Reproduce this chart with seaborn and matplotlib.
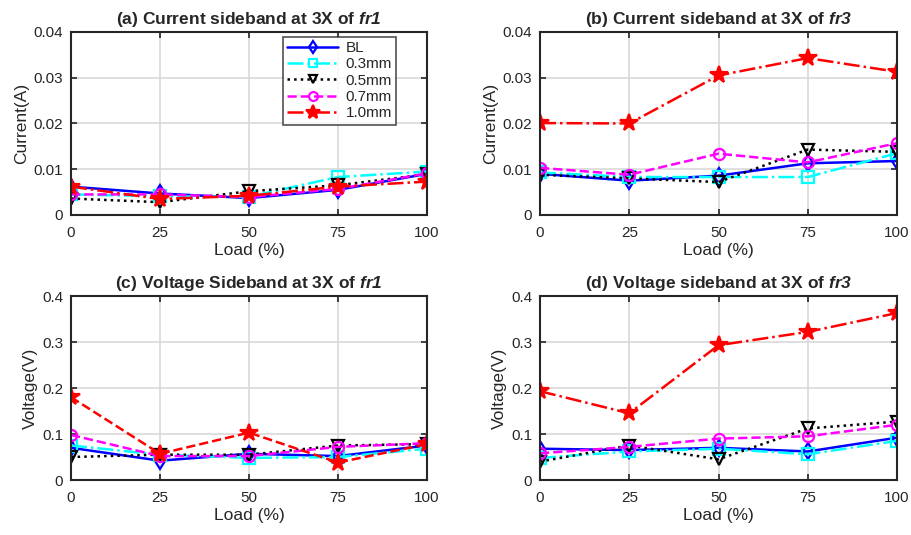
import matplotlib
matplotlib.use('Agg')
import matplotlib.pyplot as plt
import seaborn as sns

load = [0, 25, 50, 75, 100]
series = ['BL', '0.3mm', '0.5mm', '0.7mm', '1.0mm']

# (a) current sideband at 3X of fr1
cur_fr1 = {
    'BL':    [0.0062, 0.0047, 0.0037, 0.0055, 0.0090],
    '0.3mm': [0.0045, 0.0041, 0.0040, 0.0083, 0.0095],
    '0.5mm': [0.0036, 0.0028, 0.0052, 0.0065, 0.0089],
    '0.7mm': [0.0045, 0.0045, 0.0039, 0.0057, 0.0091],
    '1.0mm': [0.0062, 0.0035, 0.0042, 0.0062, 0.0073],
}
# (b) current sideband at 3X of fr3
cur_fr3 = {
    'BL':    [0.0090, 0.0075, 0.0086, 0.0113, 0.0118],
    '0.3mm': [0.0093, 0.0083, 0.0083, 0.0083, 0.0135],
    '0.5mm': [0.0088, 0.0080, 0.0072, 0.0143, 0.0138],
    '0.7mm': [0.0103, 0.0088, 0.0134, 0.0115, 0.0157],
    '1.0mm': [0.0201, 0.0200, 0.0305, 0.0343, 0.0313],
}
# (c) voltage sideband at 3X of fr1
volt_fr1 = {
    'BL':    [0.070, 0.042, 0.057, 0.052, 0.075],
    '0.3mm': [0.075, 0.055, 0.048, 0.050, 0.068],
    '0.5mm': [0.050, 0.055, 0.055, 0.075, 0.078],
    '0.7mm': [0.098, 0.052, 0.052, 0.072, 0.080],
    '1.0mm': [0.180, 0.057, 0.103, 0.038, 0.078],
}
# (d) voltage sideband at 3X of fr3
volt_fr3 = {
    'BL':    [0.068, 0.065, 0.070, 0.062, 0.092],
    '0.3mm': [0.048, 0.062, 0.068, 0.056, 0.085],
    '0.5mm': [0.040, 0.075, 0.045, 0.112, 0.127],
    '0.7mm': [0.058, 0.072, 0.090, 0.095, 0.120],
    '1.0mm': [0.193, 0.145, 0.293, 0.322, 0.363],
}

titles = ['(a) Current sideband at 3X of $\\mathit{fr1}$',
          '(b) Current sideband at 3X of $\\mathit{fr3}$',
          '(c) Voltage Sideband at 3X of $\\mathit{fr1}$',
          '(d) Voltage sideband at 3X of $\\mathit{fr3}$']

colors = {'BL': '#0000ff', '0.3mm': '#00ffff', '0.5mm': '#000000',
          '0.7mm': '#ff00ff', '1.0mm': '#ff0000'}
markers = {'BL': 'd', '0.3mm': 's', '0.5mm': 'v', '0.7mm': 'o', '1.0mm': '*'}
styles = {'BL': '-', '0.3mm': '-.', '0.5mm': ':', '0.7mm': '--', '1.0mm': '-.'}

sns.set_style('white')
plt.rcParams['font.family'] = ['Liberation Sans', 'DejaVu Sans']
plt.rcParams['mathtext.fontset'] = 'custom'
plt.rcParams['mathtext.it'] = 'Liberation Sans:italic:bold'
plt.rcParams['mathtext.rm'] = 'Liberation Sans:italic:bold'

fig = plt.figure(figsize=(9.11, 5.35), dpi=100)
W, H = 911, 535
boxes = [(71, 32, 427, 215), (540, 32, 897, 215),
         (71, 296, 427, 480), (540, 296, 897, 480)]
datasets = [cur_fr1, cur_fr3, volt_fr1, volt_fr3]

for i, (box, data) in enumerate(zip(boxes, datasets)):
    x0, y0, x1, y1 = box
    ax = fig.add_axes([x0 / W, 1 - y1 / H, (x1 - x0) / W, (y1 - y0) / H])
    for s in series:
        ls = styles[s]
        if i == 2 and s == '1.0mm':
            ls = '--'
        filled = s == '1.0mm'
        sns.lineplot(x=load, y=data[s], ax=ax, color=colors[s], linestyle=ls,
                     linewidth=1.8, marker=markers[s],
                     markersize=13 if filled else 8,
                     markerfacecolor=colors[s] if filled else 'none',
                     markeredgecolor=colors[s], markeredgewidth=1.6,
                     label=s, legend=False)
    ax.set_xlim(0, 100)
    ax.set_xticks(load)
    ax.set_xticklabels([str(v) for v in load])
    if i < 2:
        ax.set_ylim(0, 0.04)
        ax.set_yticks([0, 0.01, 0.02, 0.03, 0.04])
        ax.set_yticklabels(['0', '0.01', '0.02', '0.03', '0.04'])
        ax.set_ylabel('Current(A)', fontsize=12.5, color='#262626', labelpad=3)
    else:
        ax.set_ylim(0, 0.4)
        ax.set_yticks([0, 0.1, 0.2, 0.3, 0.4])
        ax.set_yticklabels(['0', '0.1', '0.2', '0.3', '0.4'])
        ax.set_ylabel('Voltage(V)', fontsize=12.5, color='#262626', labelpad=3)
    ax.set_xlabel('Load (%)', fontsize=12.5, color='#262626', labelpad=2)
    ax.set_title(titles[i], fontsize=12.5, fontweight='bold', pad=6)
    ax.grid(True, color='#d6d6d6', linewidth=1.1)
    ax.set_axisbelow(True)
    ax.tick_params(direction='in', length=4, width=1.2, colors='#262626',
                   labelsize=11, top=True, right=True, bottom=True, left=True)
    ax.tick_params(axis='x', pad=8)
    ax.tick_params(axis='y', pad=5.5)
    for sp in ax.spines.values():
        sp.set_visible(True)
        sp.set_color('#262626')
        sp.set_linewidth(1.5)
    if i == 0:
        leg = ax.legend(loc='upper left', bbox_to_anchor=(0.595, 0.975),
                        fontsize=11, frameon=True, fancybox=False,
                        edgecolor='#262626', handlelength=3.3,
                        handletextpad=0.5, markerscale=0.8,
                        borderpad=0.3, labelspacing=0.15, borderaxespad=0)
        leg.get_frame().set_linewidth(1.2)

fig.savefig('out.png', dpi=100)
